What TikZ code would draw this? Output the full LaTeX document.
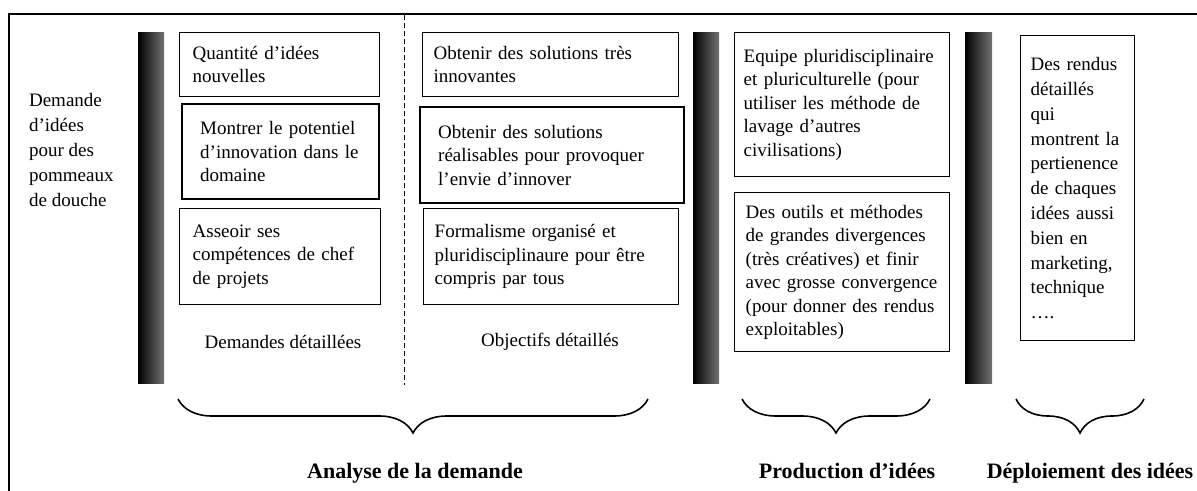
\documentclass[tikz,border=0pt]{standalone}
\usepackage{fontspec}
\setmainfont{Liberation Serif}
\usetikzlibrary{decorations.pathreplacing}

\begin{document}
\begin{tikzpicture}[x=0.5pt,y=-0.5pt,
    txt/.style={font=\fontsize{9.5}{11.75}\selectfont},
    box/.style={txt, draw, line width=0.7pt, anchor=north west, align=left, inner xsep=5.5pt, inner ysep=0pt,
        execute at begin node={\hyphenpenalty=10000}},
    boldbox/.style={box, line width=1.2pt, inner xsep=9pt},
    bar/.style={left color=black, right color=black!55},
    brace/.style={decorate, decoration={brace, mirror, amplitude=17pt}, line width=0.8pt},
    phase/.style={font=\fontsize{11}{13}\selectfont\bfseries, anchor=base}]
    \useasboundingbox (0,0) rectangle (1197,491);
    % frame
    \draw[line width=1pt] (9,491) -- (9,14) -- (1197,14);
    \node[txt, anchor=west, align=left, font=\fontsize{9.5}{12.5}\selectfont] (request) at (22,150)
        {Demande\\d’idées\\pour des\\pommeaux\\de douche};
    % shaded bars
    \fill[bar] (138,33) rectangle (164,383);
    \fill[bar] (693,33) rectangle (719,383);
    \fill[bar] (965,33) rectangle (992,383);
    % analyse: demandes
    \node[box, inner xsep=6.5pt, text width=87pt, minimum height=32pt] (qty) at (179,32)
        {Quantité d’idées\\nouvelles};
    \node[boldbox, text width=80.5pt, minimum height=47.5pt] (potential) at (181,103)
        {Montrer le potentiel\\d’innovation dans le\\domaine};
    \node[box, inner xsep=6.5pt, text width=87.5pt, minimum height=48pt] (skills) at (179,208)
        {Asseoir ses\\compétences de chef\\de projets};
    \node[txt] (demands) at (283,342) {Demandes détaillées};
    % analyse: objectifs
    \coordinate (sepTop) at (404,15);
    \coordinate (sepBot) at (404,385);
    \draw[line width=0.5pt, dash pattern=on 2.5pt off 1.5pt] (sepTop) -- (sepBot);
    \node[box, text width=117pt, minimum height=32pt] (innov) at (422,32)
        {Obtenir des solutions très\\innovantes};
    \node[boldbox, text width=114pt, minimum height=48pt] (feasible) at (419,106)
        {Obtenir des solutions\\réalisables pour provoquer\\l’envie d’innover};
    \node[box, text width=116.5pt, minimum height=48pt] (formal) at (423,208)
        {Formalisme organisé et\\pluridisciplinaure pour être\\compris par tous};
    \node[txt] (goals) at (550,342) {Objectifs détaillés};
    % production
    \node[box, inner xsep=4.5pt, text width=98.5pt, minimum height=72pt] (team) at (734,32)
        {Equipe pluridisciplinaire\\et pluriculturelle (pour\\utiliser les méthode de\\lavage d’autres\\civilisations)};
    \node[box, text width=96.5pt, minimum height=79.5pt] (tools) at (734,192)
        {Des outils et méthodes\\de grandes divergences\\(très créatives) et finir\\avec grosse convergence\\(pour donner des rendus\\exploitables)};
    % deploiement
    \node[box, inner xsep=5pt, text width=47pt, minimum height=152.5pt, font=\fontsize{9.5}{12.4}\selectfont] (renders) at (1020,35)
        {Des rendus\\détaillés\\qui\\montrent la\\pertienence\\de chaques\\idées aussi\\bien en\\marketing,\\technique\\….};
    % braces
    \coordinate (anaL) at (178,399);
    \coordinate (anaR) at (648,399);
    \coordinate (prodL) at (742,399);
    \coordinate (prodR) at (930,399);
    \coordinate (depL) at (1016,399);
    \coordinate (depR) at (1144,399);
    \draw[brace] (anaL) -- (anaR);
    \draw[brace] (prodL) -- (prodR);
    \draw[brace] (depL) -- (depR);
    \node[phase] (analyse) at (415,478) {Analyse de la demande};
    \node[phase] (production) at (847,478) {Production d’idées};
    \node[phase] (deploy) at (1090,478) {Déploiement des idées};
\end{tikzpicture}
\end{document}
